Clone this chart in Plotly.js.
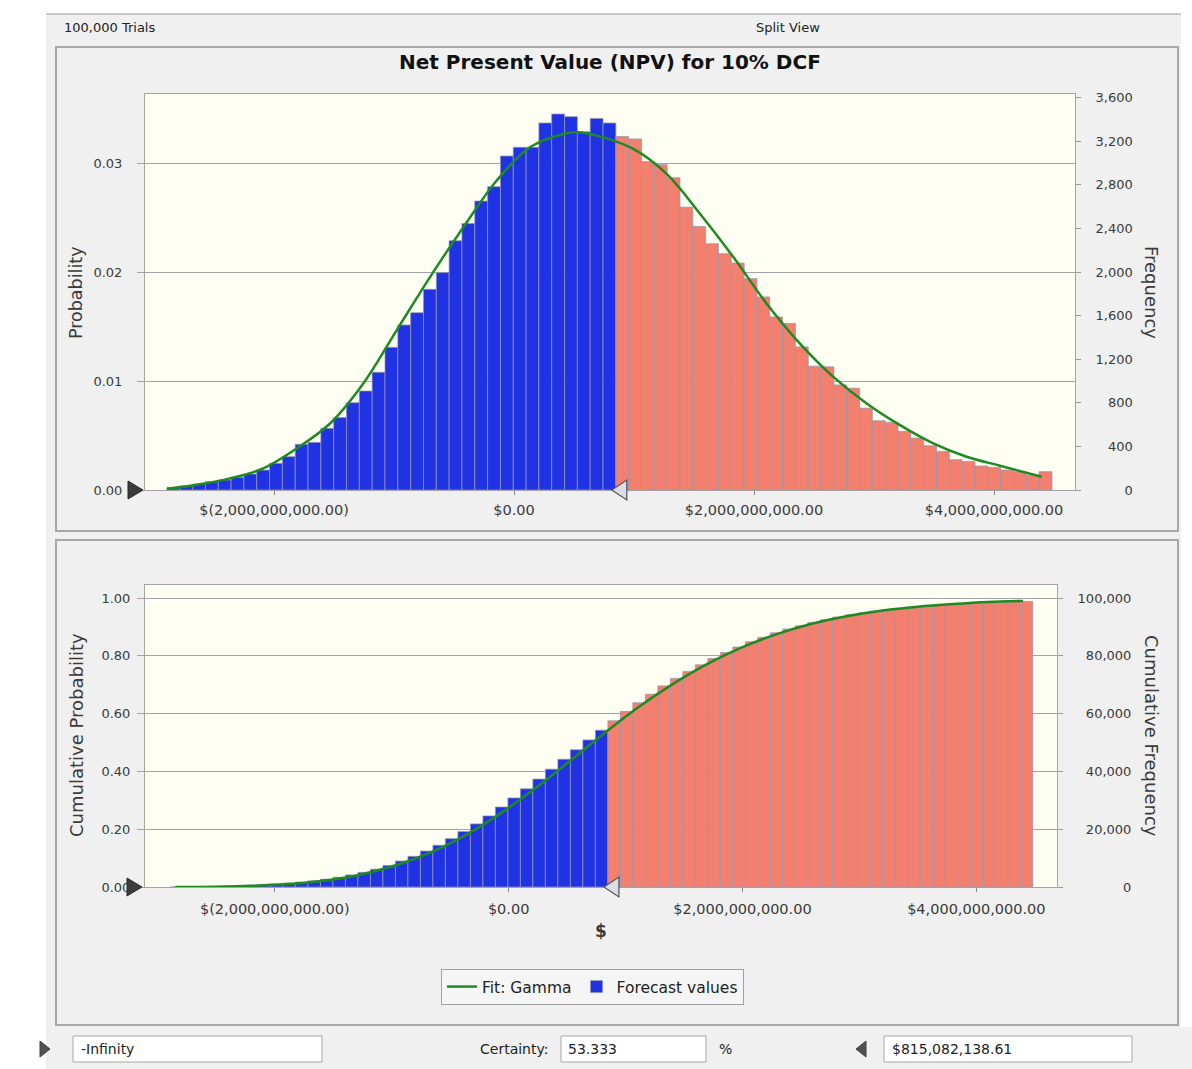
<!DOCTYPE html>
<html><head><meta charset="utf-8">
<script src="https://cdn.plot.ly/plotly-3.0.1.min.js"></script>
<style>html,body{margin:0;padding:0;background:#fff;}#chart{width:1192px;height:1069px;}</style>
</head><body><div id="chart"></div>
<script>
// ---------------- data ----------------
const trials = 100000;
const binStart = -2892000000;
const binWidth = 106880000;
const blueBins = 35;
const certaintyLowText = '-Infinity';
const certaintyHigh = 815082138.61;
const certaintyHighText = '$815,082,138.61';
const certaintyText = '53.333';

const forecastFrequency = [25,37,55,76,92,116,147,183,245,306,419,437,566,664,801,908,1080,1309,1514,1627,
  1841,1994,2287,2446,2651,2783,3064,3144,3144,3367,3449,3425,3287,3409,3367,
  3242,3221,3013,2985,2864,2595,2418,2259,2168,2082,1939,1771,1588,1527,1313,1136,1130,964,934,751,
  635,620,537,476,406,354,278,262,220,208,183,168,137,168];

const cumulativeFrequency = [25,62,117,193,285,401,548,731,976,1282,1701,2138,2704,3368,4169,5077,6157,7466,8980,10607,
  12448,14442,16729,19175,21826,24609,27673,30817,33961,37328,40777,44202,47489,50898,54265,
  57507,60728,63741,66726,69590,72185,74603,76862,79030,81112,83051,84822,86410,87937,89250,90386,91516,92480,93414,94165,
  94800,95420,95957,96433,96839,97193,97471,97733,97953,98161,98344,98512,98649,98817];

const fitX = [-2892000000,-2630000000,-2367000000,-2089000000,-1811000000,-1533000000,-1256000000,-978000000,-700000000,-422000000,
  -144000000,133000000,411000000,522000000,689000000,994000000,1272000000,1550000000,1828000000,2106000000,
  2383000000,2661000000,2939000000,3217000000,3494000000,3772000000,4050000000,4397000000];
const fitProbability = [0.0001,0.0005,0.00107,0.00198,0.00381,0.0061,0.00977,0.01465,0.01953,0.02411,
  0.02839,0.03144,0.03266,0.03281,0.03251,0.03129,0.0290,0.02534,0.02137,0.01709,
  0.01343,0.01038,0.00794,0.00595,0.00428,0.00305,0.00223,0.00122];

const cdfX = [-2850000000,-2500000000,-2200000000,-1900000000,-1600000000,-1300000000,-1000000000,-700000000,-400000000,-100000000,
  200000000,500000000,800000000,1100000000,1400000000,1700000000,2000000000,2300000000,2600000000,2900000000,
  3200000000,3500000000,3800000000,4100000000,4400000000];
const cdfProbability = [0,0.0012,0.004,0.010,0.021,0.040,0.071,0.114,0.172,0.246,
  0.333,0.428,0.526,0.619,0.701,0.772,0.830,0.876,0.912,0.938,
  0.957,0.970,0.979,0.986,0.990];

const probTicks = [0,0.01,0.02,0.03];
const freqTicks = [0,400,800,1200,1600,2000,2400,2800,3200,3600];
const cumProbTicks = [0,0.2,0.4,0.6,0.8,1.0];
const cumFreqTicks = [0,20000,40000,60000,80000,100000];
const xTickVals = [-2000000000,0,2000000000,4000000000];
const xTickText = ['$(2,000,000,000.00)','$0.00','$2,000,000,000.00','$4,000,000,000.00'];

// ---------------- styling / layout helpers ----------------
const W = 1192, H = 1069;
const fx = p => p / W;
const fy = p => 1 - p / H;
const FONT = 'DejaVu Sans, Verdana, sans-serif';
const BLUE = '#1f33e4';
const RED = '#f37f6e';
const GREEN = '#1e8a22';
const GRID = '#a4a4a4';
const TXT = '#3a3a3a';

function padTo(label, ref) {
  const dig = s => (s.match(/\d/g) || []).length;
  const com = s => (s.match(/,/g) || []).length;
  return '\u2007'.repeat(Math.max(0, dig(ref) - dig(label))) + '\u2008'.repeat(Math.max(0, com(ref) - com(label))) + label;
}
const fmt = v => v.toLocaleString('en-US');
const freqText = freqTicks.map(v => padTo(fmt(v), fmt(freqTicks[freqTicks.length - 1])));
const cumFreqText = cumFreqTicks.map(v => padTo(fmt(v), fmt(cumFreqTicks[cumFreqTicks.length - 1])));

const barColors = forecastFrequency.map((_, i) => i < blueBins ? BLUE : RED);
const barLine = {color: 'rgba(150,150,175,0.75)', width: 1};

const traces = [
  {type: 'bar', name: 'Forecast values', x0: binStart, dx: binWidth, width: binWidth, offset: 0,
   y: forecastFrequency, xaxis: 'x', yaxis: 'y', marker: {color: barColors, line: barLine},
   legendrank: 2, showlegend: true},
  {type: 'scatter', mode: 'lines', name: 'Fit: Gamma', x: fitX, y: fitProbability, xaxis: 'x', yaxis: 'y2',
   line: {color: GREEN, width: 2.5, shape: 'spline', smoothing: 1}, legendrank: 1, showlegend: true},
  {type: 'bar', name: 'Cumulative', x0: binStart, dx: binWidth, width: binWidth, offset: 0,
   y: cumulativeFrequency, xaxis: 'x2', yaxis: 'y3', marker: {color: barColors, line: barLine}, showlegend: false},
  {type: 'scatter', mode: 'lines', name: 'Fit CDF', x: cdfX, y: cdfProbability, xaxis: 'x2', yaxis: 'y4',
   line: {color: GREEN, width: 2.5, shape: 'spline', smoothing: 1}, showlegend: false}
];

const tickFont = {family: FONT, size: 13, color: TXT};
const xCommon = {tickvals: xTickVals, ticktext: xTickText, ticks: 'outside', ticklen: 4, tickcolor: '#888',
  showline: true, mirror: true, linecolor: '#a4a4a4', linewidth: 1, showgrid: false, zeroline: false,
  tickfont: {family: FONT, size: 14.5, color: TXT}, fixedrange: true};
const rightAxis = {side: 'right', ticks: 'outside', ticklen: 5, tickcolor: '#999', showgrid: false, zeroline: false,
  showline: true, mirror: true, linecolor: '#a4a4a4', tickfont: tickFont, ticklabelstandoff: 12};
const leftAxis = {side: 'left', tickformat: '.2f', ticks: 'outside', ticklen: 7, tickcolor: GRID,
  showgrid: true, gridcolor: GRID, gridwidth: 1, zeroline: false, showline: false, tickfont: tickFont};

const stripFont = {family: FONT, size: 14, color: '#222'};

const layout = {
  width: W, height: H, margin: {l: 0, r: 0, t: 0, b: 0},
  paper_bgcolor: '#f0f0f0', plot_bgcolor: '#fefef3',
  font: {family: FONT, color: TXT}, showlegend: true, hovermode: false, barmode: 'overlay',
  xaxis: Object.assign({}, xCommon, {domain: [fx(145), fx(1075)], range: [-3075000000, 4675000000], anchor: 'y', ticklabelstandoff: 3}),
  yaxis: Object.assign({}, rightAxis, {domain: [fy(490), fy(94)], range: [0, 3633], anchor: 'x',
    tickvals: freqTicks, ticktext: freqText}),
  yaxis2: Object.assign({}, leftAxis, {overlaying: 'y', anchor: 'x', range: [0, 3633 / trials],
    tickvals: probTicks, ticklabelstandoff: 12}),
  xaxis2: Object.assign({}, xCommon, {domain: [fx(145), fx(1057)], range: [-3110000000, 4690000000], anchor: 'y3', ticklabelstandoff: 5}),
  yaxis3: Object.assign({}, rightAxis, {domain: [fy(887), fy(585)], range: [0, 1.045 * trials], anchor: 'x2',
    tickvals: cumFreqTicks, ticktext: cumFreqText}),
  yaxis4: Object.assign({}, leftAxis, {overlaying: 'y3', anchor: 'x2', range: [0, 1.045],
    tickvals: cumProbTicks, ticklabelstandoff: 4}),
  legend: {orientation: 'h', x: fx(441), y: fy(969), xanchor: 'left', yanchor: 'top',
    bgcolor: '#f5f5f5', bordercolor: '#a0a0a0', borderwidth: 1,
    font: {family: FONT, size: 15.5, color: '#222'}, itemwidth: 30, tracegroupgap: 0},
  shapes: [
    // white outer margins
    {type: 'rect', xref: 'paper', yref: 'paper', x0: 0, x1: 1, y0: fy(14), y1: 1, fillcolor: '#ffffff', line: {width: 0}, layer: 'below'},
    {type: 'rect', xref: 'paper', yref: 'paper', x0: 0, x1: fx(46), y0: 0, y1: 1, fillcolor: '#ffffff', line: {width: 0}, layer: 'below'},
    {type: 'rect', xref: 'paper', yref: 'paper', x0: fx(1181), x1: 1, y0: fy(1027), y1: 1, fillcolor: '#ffffff', line: {width: 0}, layer: 'below'},
    {type: 'line', xref: 'paper', yref: 'paper', x0: fx(46), x1: fx(1181), y0: fy(14), y1: fy(14), line: {color: '#b8b8b8', width: 1.5}},
    // chart panels
    {type: 'rect', xref: 'paper', yref: 'paper', x0: fx(56), x1: fx(1178), y0: fy(531), y1: fy(47), line: {color: '#a8a8a8', width: 2}},
    {type: 'rect', xref: 'paper', yref: 'paper', x0: fx(56), x1: fx(1178), y0: fy(1025), y1: fy(540), line: {color: '#a8a8a8', width: 2}},
    // certainty grabbers (top)
    {type: 'path', xref: 'paper', yref: 'paper', xsizemode: 'pixel', ysizemode: 'pixel', xanchor: fx(143), yanchor: fy(490),
     path: 'M0,0 L-15,9 L-15,-9 Z', fillcolor: '#3c3c3c', line: {color: '#2a2a2a', width: 1}},
    {type: 'path', xref: 'x', yref: 'paper', xsizemode: 'pixel', ysizemode: 'pixel', xanchor: certaintyHigh, yanchor: fy(490),
     path: 'M0,0 L15,10 L15,-10 Z', fillcolor: '#dcdce6', line: {color: '#555', width: 1.2}},
    // certainty grabbers (bottom)
    {type: 'path', xref: 'paper', yref: 'paper', xsizemode: 'pixel', ysizemode: 'pixel', xanchor: fx(142), yanchor: fy(887),
     path: 'M0,0 L-15,9 L-15,-9 Z', fillcolor: '#3c3c3c', line: {color: '#2a2a2a', width: 1}},
    {type: 'path', xref: 'x2', yref: 'paper', xsizemode: 'pixel', ysizemode: 'pixel', xanchor: certaintyHigh, yanchor: fy(887),
     path: 'M0,0 L15,10 L15,-10 Z', fillcolor: '#dcdce6', line: {color: '#555', width: 1.2}},
    // bottom control strip
    {type: 'path', xref: 'paper', yref: 'paper', xsizemode: 'pixel', ysizemode: 'pixel', xanchor: fx(50), yanchor: fy(1049),
     path: 'M0,0 L-10,8 L-10,-8 Z', fillcolor: '#505050', line: {color: '#404040', width: 1}},
    {type: 'rect', xref: 'paper', yref: 'paper', x0: fx(73), x1: fx(322), y0: fy(1062), y1: fy(1036), fillcolor: '#ffffff', line: {color: '#a8a8a8', width: 1}},
    {type: 'rect', xref: 'paper', yref: 'paper', x0: fx(561), x1: fx(706), y0: fy(1062), y1: fy(1036), fillcolor: '#ffffff', line: {color: '#a8a8a8', width: 1}},
    {type: 'path', xref: 'paper', yref: 'paper', xsizemode: 'pixel', ysizemode: 'pixel', xanchor: fx(856), yanchor: fy(1049),
     path: 'M0,0 L10,8 L10,-8 Z', fillcolor: '#505050', line: {color: '#404040', width: 1}},
    {type: 'rect', xref: 'paper', yref: 'paper', x0: fx(884), x1: fx(1132), y0: fy(1062), y1: fy(1036), fillcolor: '#ffffff', line: {color: '#a8a8a8', width: 1}}
  ],
  annotations: [
    {text: '100,000 Trials', x: fx(62), y: fy(28), xanchor: 'left', yanchor: 'middle', font: {family: FONT, size: 13, color: '#222'}},
    {text: 'Split View', x: fx(788), y: fy(28), xanchor: 'center', yanchor: 'middle', font: {family: FONT, size: 13, color: '#222'}},
    {text: '<b>Net Present Value (NPV) for 10% DCF</b>', x: fx(610), y: fy(62), xanchor: 'center', yanchor: 'middle', font: {family: FONT, size: 20, color: '#111'}},
    {text: 'Probability', x: fx(76), y: fy(293), textangle: -90, xanchor: 'center', yanchor: 'middle', font: {family: FONT, size: 17.5, color: TXT}},
    {text: 'Frequency', x: fx(1152), y: fy(292), textangle: 90, xanchor: 'center', yanchor: 'middle', font: {family: FONT, size: 18, color: TXT}},
    {text: 'Cumulative Probability', x: fx(76), y: fy(735), textangle: -90, xanchor: 'center', yanchor: 'middle', font: {family: FONT, size: 18, color: TXT}},
    {text: 'Cumulative Frequency', x: fx(1152), y: fy(736), textangle: 90, xanchor: 'center', yanchor: 'middle', font: {family: FONT, size: 18, color: TXT}},
    {text: '<b>$</b>', x: fx(601), y: fy(931), xanchor: 'center', yanchor: 'middle', font: {family: FONT, size: 17, color: TXT}},
    {text: certaintyLowText, x: fx(79), y: fy(1049), xanchor: 'left', yanchor: 'middle', font: stripFont},
    {text: 'Certainty:', x: fx(550), y: fy(1049), xanchor: 'right', yanchor: 'middle', font: stripFont},
    {text: certaintyText, x: fx(566), y: fy(1049), xanchor: 'left', yanchor: 'middle', font: stripFont},
    {text: '%', x: fx(725), y: fy(1049), xanchor: 'center', yanchor: 'middle', font: stripFont},
    {text: certaintyHighText, x: fx(890), y: fy(1049), xanchor: 'left', yanchor: 'middle', font: stripFont}
  ].map(a => Object.assign({xref: 'paper', yref: 'paper', showarrow: false}, a))
};

Plotly.newPlot('chart', traces, layout, {staticPlot: true, displayModeBar: false});
</script>
</body></html>
